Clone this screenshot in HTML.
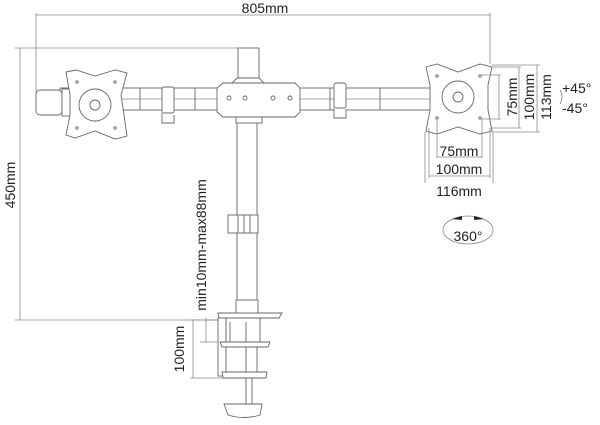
<!DOCTYPE html>
<html><head><style>
html,body{margin:0;padding:0;background:#fff;}
svg{display:block;}
text{font-family:"Liberation Sans",sans-serif;fill:#222;}
</style></head><body>
<svg width="600" height="425" viewBox="0 0 600 425" xmlns="http://www.w3.org/2000/svg">
<g stroke="#888" stroke-width="0.8" fill="none">
 <line x1="36" y1="15" x2="490" y2="15"/>
 <line x1="36" y1="13" x2="36" y2="92"/>
 <line x1="490" y1="13" x2="490" y2="64"/>
 <line x1="20" y1="48" x2="20" y2="320"/>
 <line x1="15" y1="48" x2="238" y2="48"/>
 <line x1="15" y1="320" x2="218" y2="320"/>
 <line x1="206" y1="318" x2="206" y2="342"/>
 <line x1="200" y1="342" x2="220" y2="342"/>
 <line x1="190" y1="320" x2="218" y2="320"/>
 <line x1="190" y1="378" x2="225" y2="378"/>
 <line x1="193" y1="320" x2="193" y2="378"/>
</g>
<g stroke="#666" stroke-width="0.9" fill="#fff">
 <rect x="237" y="115" width="20" height="185"/>
 <rect x="238" y="48" width="21" height="35"/>
 <path d="M232 83 L264 83 L259 78 L237 78 Z"/>
 <rect x="228" y="215" width="30" height="18"/>
 <line x1="238" y1="215" x2="238" y2="233"/><line x1="244" y1="215" x2="244" y2="233"/><line x1="250" y1="215" x2="250" y2="233"/>
 <rect x="60" y="88" width="385" height="22"/>
 <line x1="60" y1="99" x2="445" y2="99" stroke="#aaa"/>
 <line x1="140" y1="88" x2="140" y2="110"/><line x1="195" y1="88" x2="195" y2="110"/>
 <line x1="330" y1="88" x2="330" y2="110"/><line x1="380" y1="88" x2="380" y2="110"/>
 <path d="M217 88 L223 83 L295 83 L300 88 L300 112 L295 117 L223 117 L217 112 Z"/>
 <rect x="236" y="117" width="26" height="6"/>
 <circle cx="229" cy="98" r="2"/><circle cx="245" cy="98" r="2"/><circle cx="273" cy="98" r="2"/><circle cx="290" cy="98" r="2"/>
 <rect x="162" y="87" width="12" height="26" rx="2"/>
 <path d="M162 113 L162 123 L174 123 L174 115"/>
 <rect x="334" y="83" width="12" height="25" rx="2"/>
 <path d="M334 108 L334 118 L346 118 L346 110"/>
 <rect x="36" y="90" width="26" height="25" rx="4"/>
 <rect x="62" y="89" width="10" height="27"/>
 <path d="M66 72 L76 70 L95 76 L115 70 L127 73 L121 95 L124 115 L127 136 L115 139 L95 131 L75 138 L66 135 L70 115 L70 95 Z"/>
 <circle cx="95" cy="105" r="16"/>
 <circle cx="95" cy="105" r="5"/>
 <circle cx="77" cy="82" r="1.2"/><circle cx="115" cy="82" r="1.2"/><circle cx="77" cy="128" r="1.2"/><circle cx="115" cy="128" r="1.2"/>
 <path d="M426 67 L437 64 L458 72 L480 64 L492 67 L488 85 L488 110 L492 131 L480 134 L458 127 L437 134 L426 131 L430 110 L430 85 Z"/>
 <circle cx="458" cy="97" r="16"/>
 <circle cx="458" cy="97" r="5"/>
 <circle cx="437" cy="76" r="1.2"/><circle cx="480" cy="76" r="1.2"/><circle cx="437" cy="118" r="1.2"/><circle cx="480" cy="118" r="1.2"/>
 <path d="M218 313 L282 313 L279 318 L219 318 Z"/>
 <rect x="236" y="300" width="22" height="13"/>
 <rect x="218" y="318" width="8" height="58"/>
 <rect x="226" y="318" width="34" height="24" fill="none"/>
 <line x1="230" y1="322" x2="230" y2="342"/><line x1="246" y1="322" x2="246" y2="342"/>
 <path d="M220 342 L270 342 L268 347 L222 347 Z"/>
 <line x1="246" y1="347" x2="246" y2="372"/><line x1="257" y1="347" x2="257" y2="372"/>
 <path d="M222 372 L267 372 L266 378 L223 378 Z"/>
 <rect x="246" y="378" width="6" height="26"/>
 <path d="M224 404 L262 404 L260 415 Q244 420 228 415 Z"/>
</g>
<g stroke="#888" stroke-width="0.8" fill="none">
 <line x1="480" y1="75" x2="501" y2="75"/><line x1="480" y1="119" x2="501" y2="119"/><line x1="499" y1="75" x2="499" y2="119"/>
 <line x1="490" y1="67" x2="521" y2="67"/><line x1="490" y1="128" x2="521" y2="128"/><line x1="519" y1="67" x2="519" y2="128"/>
 <line x1="492" y1="65" x2="540" y2="65"/><line x1="492" y1="132" x2="540" y2="132"/><line x1="537" y1="65" x2="537" y2="132"/>
 <line x1="437" y1="119" x2="437" y2="158"/><line x1="482" y1="119" x2="482" y2="158"/><line x1="437" y1="157" x2="482" y2="157"/>
 <line x1="429" y1="128" x2="429" y2="178"/><line x1="490" y1="128" x2="490" y2="178"/><line x1="429" y1="176" x2="490" y2="176"/>
 <line x1="425" y1="132" x2="425" y2="183"/><line x1="493" y1="132" x2="493" y2="183"/>
 <ellipse cx="468" cy="230" rx="25" ry="14"/>
 <path d="M560 90 Q564 97 560 104"/>
</g>
<path d="M452 219 L462 216 L462 220 Z M484 219 L474 216 L474 220 Z" fill="#222"/>
<g font-size="14">
 <text x="265" y="13" text-anchor="middle">805mm</text>
 <text transform="translate(15,185) rotate(-90)" text-anchor="middle">450mm</text>
 <text transform="translate(206,245) rotate(-90)" text-anchor="middle">min10mm-max88mm</text>
 <text transform="translate(184,349) rotate(-90)" text-anchor="middle">100mm</text>
 <text transform="translate(517,97) rotate(-90)" text-anchor="middle">75mm</text>
 <text transform="translate(534,97) rotate(-90)" text-anchor="middle">100mm</text>
 <text transform="translate(551,97) rotate(-90)" text-anchor="middle">113mm</text>
 <text x="459" y="156" text-anchor="middle">75mm</text>
 <text x="459" y="174" text-anchor="middle">100mm</text>
 <text x="459" y="196" text-anchor="middle">116mm</text>
 <text x="562" y="93">+45°</text>
 <text x="562" y="113">-45°</text>
 <text x="468" y="241" text-anchor="middle">360°</text>
</g>
</svg>
</body></html>
